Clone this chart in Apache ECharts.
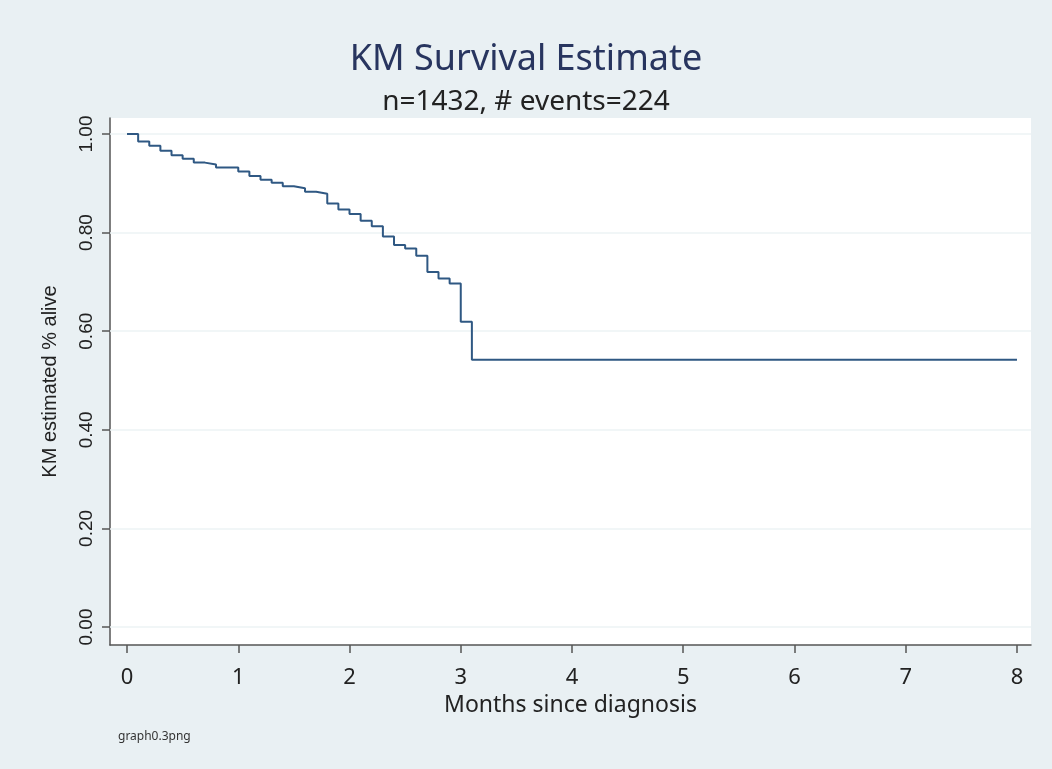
<!DOCTYPE html>
<html>
<head>
<meta charset="utf-8">
<script src="https://cdn.jsdelivr.net/npm/echarts@6/dist/echarts.min.js"></script>
<style>
html,body{margin:0;padding:0;background:#e9f0f3;}
#chart{width:1052px;height:769px;}
</style>
</head>
<body>
<div id="chart"></div>
<script>
// Data
const times = [0, 0.1, 0.2, 0.3, 0.4, 0.5, 0.6, 0.7, 0.8, 1.0, 1.1, 1.2, 1.3, 1.4, 1.5, 1.6, 1.7, 1.8, 1.9, 2.0, 2.1, 2.2, 2.3, 2.4, 2.5, 2.6, 2.7, 2.8, 2.9, 3.0, 3.1, 8.0];
const survival = [1.000, 0.985, 0.976, 0.966, 0.957, 0.950, 0.942, 0.938, 0.932, 0.924, 0.915, 0.907, 0.901, 0.894, 0.890, 0.883, 0.879, 0.859, 0.847, 0.838, 0.824, 0.813, 0.792, 0.775, 0.768, 0.753, 0.720, 0.707, 0.697, 0.619, 0.542, 0.542];
const xTicks = [0, 1, 2, 3, 4, 5, 6, 7, 8];
const yTicks = [0, 0.2, 0.4, 0.6, 0.8, 1.0];
const titleText = 'KM Survival Estimate';
const subtitleText = 'n=1432, # events=224';
const xName = 'Months since diagnosis';
const yName = 'KM estimated % alive';
const noteText = 'graph0.3png';

const chart = echarts.init(document.getElementById('chart'));
const FONT = '"Noto Sans", "DejaVu Sans", sans-serif';
const points = times.map((t, i) => [t, survival[i]]);

chart.setOption({
  backgroundColor: '#e9f0f3',
  animation: false,
  title: {
    text: titleText,
    subtext: subtitleText,
    left: 'center',
    top: 37,
    itemGap: 10,
    textStyle: {fontFamily: FONT, fontSize: 36, fontWeight: 'normal', color: '#28355f'},
    subtextStyle: {fontFamily: FONT, fontSize: 28, color: '#222222'}
  },
  grid: {
    left: 110, right: 21, top: 118, bottom: 124,
    show: true, backgroundColor: '#ffffff', borderWidth: 0
  },
  xAxis: {
    type: 'value',
    min: -0.153, max: 8.126,
    name: xName,
    nameLocation: 'middle',
    nameGap: 48,
    nameTextStyle: {fontFamily: FONT, fontSize: 23, color: '#222222'},
    axisLine: {show: true, onZero: false, lineStyle: {color: '#555555', width: 1.5}},
    axisTick: {show: true, inside: false, length: 8, customValues: xTicks, lineStyle: {color: '#555555', width: 1.5}},
    axisLabel: {customValues: xTicks, margin: 22, fontFamily: FONT, fontSize: 22, color: '#222222'},
    splitLine: {show: false}
  },
  yAxis: {
    type: 'value',
    min: -0.0365, max: 1.0325,
    name: yName,
    nameLocation: 'middle',
    nameGap: 50,
    nameTextStyle: {fontFamily: '"Liberation Sans", Arial, sans-serif', fontSize: 20, color: '#222222'},
    axisLine: {show: true, onZero: false, lineStyle: {color: '#555555', width: 1.5}},
    axisTick: {show: true, inside: false, length: 8, customValues: yTicks, lineStyle: {color: '#555555', width: 1.5}},
    axisLabel: {
      customValues: yTicks, rotate: 90, margin: 14,
      fontFamily: '"Liberation Sans", Arial, sans-serif', fontSize: 19, color: '#222222',
      formatter: v => v.toFixed(2)
    },
    splitLine: {show: false}
  },
  series: [{
    type: 'line',
    data: [],
    silent: true,
    z: 1,
    markLine: {
      silent: true,
      symbol: 'none',
      label: {show: false},
      lineStyle: {color: '#edf3f5', width: 1.5, type: 'solid'},
      data: yTicks.map(v => ({yAxis: v}))
    }
  }, {
    type: 'line',
    step: 'end',
    data: points,
    showSymbol: false,
    lineStyle: {color: '#2f5883', width: 2},
    z: 5
  }],
  graphic: [{
    type: 'text',
    left: 118, top: 731,
    style: {text: noteText, fontFamily: FONT, fontSize: 12, fill: '#333333'}
  }]
});
</script>
</body>
</html>
